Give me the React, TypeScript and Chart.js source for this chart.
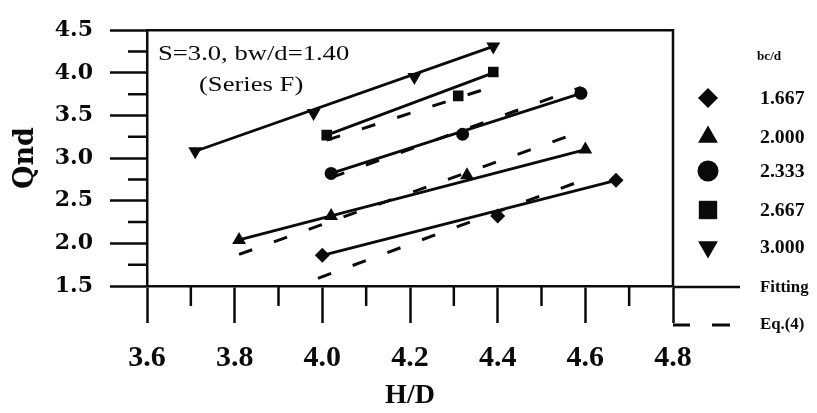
import React, { useEffect, useRef } from 'react';
import { Chart, registerables } from 'chart.js';
import { drawPoint } from 'chart.js/helpers';

Chart.register(...registerables);

// ---- data ----
const seriesLabels = ['1.667', '2.000', '2.333', '2.667', '3.000'];
const pointStyles = ['rectRot', 'triangle', 'circle', 'rect', 'triangle'];
const pointRotations = [0, 0, 0, 0, 180];

// bc/d = 1.667 (diamond)
const hd1667 = [4.0, 4.4, 4.67];
const qnd1667 = [1.86, 2.32, 2.74];
// bc/d = 2.000 (triangle up)
const hd2000 = [3.81, 4.02, 4.33, 4.6];
const qnd2000 = [2.04, 2.32, 2.8, 3.1];
// bc/d = 2.333 (circle)
const hd2333 = [4.02, 4.32, 4.59];
const qnd2333 = [2.82, 3.28, 3.76];
// bc/d = 2.667 (square)
const hd2667 = [4.01, 4.31, 4.39];
const qnd2667 = [3.27, 3.73, 4.01];
// bc/d = 3.000 (triangle down)
const hd3000 = [3.71, 3.98, 4.21, 4.39];
const qnd3000 = [3.08, 3.53, 3.95, 4.31];

// Fitting lines (end points)
const fitHd1667 = [4.0, 4.67];
const fitQnd1667 = [1.86, 2.74];
const fitHd2000 = [3.81, 4.6];
const fitQnd2000 = [2.04, 3.1];
const fitHd2333 = [4.02, 4.59];
const fitQnd2333 = [2.82, 3.76];
const fitHd2667 = [4.01, 4.39];
const fitQnd2667 = [3.27, 4.0];
const fitHd3000 = [3.71, 4.39];
const fitQnd3000 = [3.08, 4.31];

// Eq.(4) lines (end points)
const eqHd1667 = [3.99, 4.62];
const eqQnd1667 = [1.59, 2.79];
const eqHd2000 = [3.81, 4.6];
const eqQnd2000 = [1.87, 3.33];
const eqHd2333 = [4.02, 4.59];
const eqQnd2333 = [2.77, 3.83];
const eqHd2667 = [4.01, 4.39];
const eqQnd2667 = [3.21, 3.84];

// axis ticks
const xMin = 3.6;
const xMax = 4.8;
const xStep = 0.2;
const xMinorTicks = [3.7, 3.9, 4.1, 4.3, 4.5, 4.7];
const yMin = 1.5;
const yMax = 4.5;
const yStep = 0.5;
const yMinorTicks = [1.75, 2.25, 2.75, 3.25, 3.75, 4.25];

const INK = '#0a0a0a';

const pts = (xs: number[], ys: number[]) => xs.map((x, i) => ({ x, y: ys[i] }));

const pointSets = [
  pts(hd1667, qnd1667),
  pts(hd2000, qnd2000),
  pts(hd2333, qnd2333),
  pts(hd2667, qnd2667),
  pts(hd3000, qnd3000),
];
const fitSets = [
  pts(fitHd1667, fitQnd1667),
  pts(fitHd2000, fitQnd2000),
  pts(fitHd2333, fitQnd2333),
  pts(fitHd2667, fitQnd2667),
  pts(fitHd3000, fitQnd3000),
];
const eqSets = [
  pts(eqHd1667, eqQnd1667),
  pts(eqHd2000, eqQnd2000),
  pts(eqHd2333, eqQnd2333),
  pts(eqHd2667, eqQnd2667),
];

const plotRadius = [7.5, 8, 6.5, 7.5, 8];
const legendRadius = [10, 11.5, 10.5, 13, 11.5];

const decorPlugin = {
  id: 'decor',
  afterDraw(chart: any) {
    const ctx = chart.ctx as CanvasRenderingContext2D;
    const { left, right, top, bottom } = chart.chartArea;
    const xs = chart.scales.x;
    const ys = chart.scales.y;
    ctx.save();
    ctx.strokeStyle = INK;
    ctx.fillStyle = INK;
    // frame (top and right)
    ctx.lineWidth = 2.5;
    ctx.beginPath();
    ctx.moveTo(left, top);
    ctx.lineTo(right, top);
    ctx.lineTo(right, bottom);
    ctx.stroke();
    // minor ticks
    ctx.lineWidth = 2.5;
    ctx.beginPath();
    xMinorTicks.forEach((v) => {
      const px = xs.getPixelForValue(v);
      ctx.moveTo(px, bottom);
      ctx.lineTo(px, bottom + 20);
    });
    yMinorTicks.forEach((v) => {
      const py = ys.getPixelForValue(v);
      ctx.moveTo(left, py);
      ctx.lineTo(left - 19, py);
    });
    ctx.stroke();

    // annotation
    const stretchText = (t: string, x: number, y: number, font: string, sx: number) => {
      ctx.save();
      ctx.translate(x, y);
      ctx.scale(sx, 1);
      ctx.font = font;
      ctx.fillText(t, 0, 0);
      ctx.restore();
    };
    ctx.textBaseline = 'alphabetic';
    ctx.textAlign = 'left';
    stretchText('S=3.0, bw/d=1.40', left + 11, top + 30, '22px "Liberation Serif"', 1.21);
    stretchText('(Series F)', left + 52, top + 61, '22px "Liberation Serif"', 1.21);

    // legend
    const lx = right + 35;
    const tx = right + 87;
    const rowY = [98, 137, 171, 210, 247];
    ctx.textBaseline = 'middle';
    stretchText('bc/d', right + 84, 57, 'bold 12px "Liberation Serif"', 1.1);
    for (let i = 0; i < seriesLabels.length; i++) {
      drawPoint(
        ctx,
        { pointStyle: pointStyles[i], radius: legendRadius[i], rotation: pointRotations[i], borderWidth: 0 } as any,
        lx,
        rowY[i]
      );
      stretchText(seriesLabels[i], tx, rowY[i] + 1, 'bold 18px "Liberation Serif"', 1.1);
    }
    // Fitting
    ctx.lineWidth = 2.5;
    ctx.beginPath();
    ctx.moveTo(right, 287);
    ctx.lineTo(right + 67, 287);
    ctx.stroke();
    stretchText('Fitting', tx, 288, 'bold 16px "Liberation Serif"', 1.05);
    // Eq.(4)
    ctx.lineWidth = 3;
    ctx.beginPath();
    ctx.moveTo(right, 325);
    ctx.lineTo(right + 17, 325);
    ctx.moveTo(right + 39, 325);
    ctx.lineTo(right + 57, 325);
    ctx.stroke();
    stretchText('Eq.(4)', tx, 325, 'bold 16px "Liberation Serif"', 1.05);
    ctx.restore();
  },
};

export default function App() {
  const canvasRef = useRef<HTMLCanvasElement | null>(null);

  useEffect(() => {
    if (!canvasRef.current) return;
    const datasets: any[] = [];
    pointSets.forEach((d, i) => {
      datasets.push({
        label: seriesLabels[i],
        data: d,
        showLine: false,
        pointStyle: pointStyles[i],
        rotation: pointRotations[i],
        pointRadius: plotRadius[i],
        pointBackgroundColor: INK,
        pointBorderColor: INK,
        pointBorderWidth: 0,
      });
    });
    fitSets.forEach((d, i) => {
      datasets.push({
        label: 'Fitting ' + seriesLabels[i],
        data: d,
        showLine: true,
        borderColor: INK,
        borderWidth: 2.8,
        pointRadius: 0,
        fill: false,
      });
    });
    eqSets.forEach((d, i) => {
      datasets.push({
        label: 'Eq.(4) ' + seriesLabels[i],
        data: d,
        showLine: true,
        borderColor: INK,
        borderWidth: 3,
        borderDash: [14, 23],
        pointRadius: 0,
        fill: false,
      });
    });

    const chart = new Chart(canvasRef.current, {
      type: 'scatter',
      data: { datasets },
      options: {
        animation: false,
        responsive: true,
        maintainAspectRatio: false,
        events: [],
        layout: { padding: { left: 0, right: 144, top: 18, bottom: 0 }, autoPadding: false },
        plugins: { legend: { display: false }, tooltip: { enabled: false } },
        scales: {
          x: {
            type: 'linear',
            min: xMin,
            max: xMax,
            ticks: {
              stepSize: xStep,
              autoSkip: false,
              maxRotation: 0,
              padding: 17,
              color: INK,
              font: { family: '"Liberation Serif"', weight: 'bold', size: 30 },
              callback: (v: any) => Number(v).toFixed(1),
            },
            grid: {
              display: true,
              drawOnChartArea: false,
              drawTicks: true,
              tickLength: 37,
              tickWidth: 2.5,
              tickColor: INK,
            },
            border: { display: true, color: INK, width: 2.5 },
            title: {
              display: true,
              text: 'H/D',
              color: INK,
              font: { family: '"Liberation Serif"', weight: 'bold', size: 28, lineHeight: 1 },
              padding: { top: 0, bottom: 3 },
            },
            afterFit: (s: any) => {
              s.height = 127;
            },
          },
          y: {
            type: 'linear',
            min: yMin,
            max: yMax,
            ticks: {
              stepSize: yStep,
              autoSkip: false,
              padding: 17,
              color: INK,
              font: { family: '"DejaVu Serif"', weight: 'bold', size: 22 },
              callback: (v: any) => Number(v).toFixed(1),
            },
            grid: {
              display: true,
              drawOnChartArea: false,
              drawTicks: true,
              tickLength: 37,
              tickWidth: 2.5,
              tickColor: INK,
            },
            border: { display: true, color: INK, width: 2.5 },
            title: {
              display: true,
              text: 'Qnd',
              color: INK,
              font: { family: '"DejaVu Serif"', weight: 'bold', size: 27, lineHeight: 1 },
              padding: { top: 12, bottom: 0 },
            },
            afterFit: (s: any) => {
              s.width = 147;
            },
          },
        },
      },
      plugins: [decorPlugin],
    } as any);
    return () => chart.destroy();
  }, []);

  return (
    <div style={{ position: 'absolute', left: 0, top: 0, width: 817, height: 413, background: '#fff' }}>
      <canvas ref={canvasRef} />
    </div>
  );
}
